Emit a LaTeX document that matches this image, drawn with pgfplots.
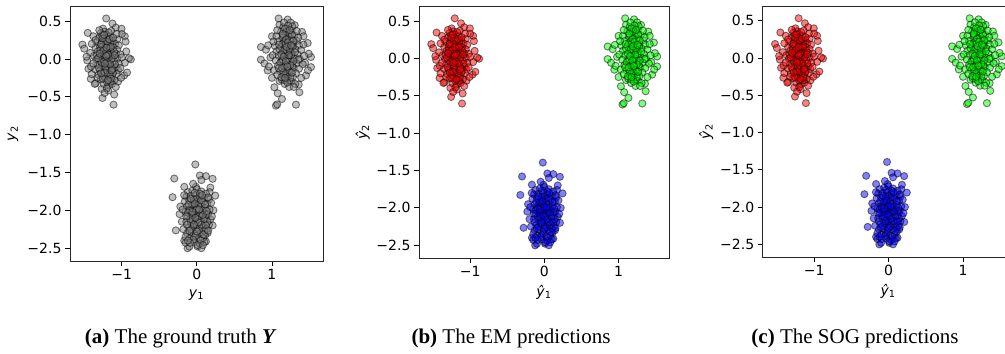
\documentclass[border=0pt]{standalone}
\usepackage{pgfplots}
\pgfplotsset{compat=1.18}
\usepackage{pgfplotstable}
\usepackage{fontspec}
\setmainfont{Liberation Serif}
\newfontfamily\capfont{Liberation Serif}
\newfontfamily\dejavu{DejaVu Sans}

\pgfplotstableread{
x y
-1.208 0.535
-1.124 0.468
-1.080 0.415
-1.004 0.400
-1.453 0.344
-1.524 0.190
-1.500 0.136
-0.880 -0.005
-0.905 0.010
-1.444 -0.130
-0.968 -0.218
-1.413 -0.263
-1.347 -0.320
-1.267 -0.396
-1.181 -0.418
-1.101 -0.470
-1.257 -0.516
-1.110 -0.604
-0.960 0.300
-0.950 0.230
-1.000 0.330
-1.380 0.300
-1.420 0.080
-1.460 -0.020
-1.470 0.030
-0.930 -0.180
-0.960 -0.050
-0.940 0.100
-1.400 -0.200
-1.050 -0.300
-1.010 -0.250
-1.250 0.400
-1.230 0.360
-1.280 0.340
-1.200 0.320
-1.160 0.300
-1.300 0.280
-1.240 0.260
-1.180 0.250
-1.120 0.240
-1.060 0.260
-1.330 0.220
-1.270 0.210
-1.210 0.200
-1.150 0.190
-1.090 0.200
-1.040 0.180
-1.350 0.150
-1.290 0.160
-1.230 0.140
-1.170 0.130
-1.110 0.150
-1.060 0.120
-1.320 0.100
-1.260 0.090
-1.200 0.080
-1.140 0.090
-1.080 0.070
-1.020 0.060
-1.370 0.040
-1.300 0.030
-1.240 0.040
-1.180 0.020
-1.120 0.030
-1.060 0.000
-1.340 -0.010
-1.280 -0.030
-1.220 -0.020
-1.160 -0.040
-1.100 -0.030
-1.040 -0.060
-1.320 -0.080
-1.260 -0.090
-1.200 -0.070
-1.140 -0.100
-1.080 -0.110
-1.350 -0.140
-1.290 -0.150
-1.230 -0.130
-1.170 -0.160
-1.110 -0.170
-1.050 -0.150
-1.310 -0.210
-1.250 -0.200
-1.190 -0.220
-1.130 -0.230
-1.070 -0.200
-1.280 -0.270
-1.220 -0.260
-1.160 -0.290
-1.100 -0.280
-1.240 -0.330
-1.180 -0.350
-1.130 -0.330
-1.200 -0.390
-1.150 -0.300
-1.210 0.010
-1.190 -0.120
-1.250 0.170
-1.130 0.060
-1.270 -0.050
-1.150 0.220
-1.210 0.280
-1.330 0.050
-1.090 -0.070
-1.190 0.110
-1.240 -0.170
-1.260 0.310
-1.140 0.370
-1.320 -0.250
-1.350 0.250
-1.400 0.200
-1.410 -0.100
-1.380 -0.060
-1.000 0.020
-1.020 -0.120
-1.070 0.330
-1.300 0.380
-1.360 -0.330
-1.080 -0.370
-1.230 -0.450
-1.160 0.050
-1.220 0.230
-1.200 -0.300
-1.120 -0.190
-1.215 0.120
-1.185 0.170
-1.245 -0.010
-1.175 -0.080
-1.205 -0.150
-1.265 0.050
-1.135 0.000
-1.225 0.060
-1.155 0.140
-1.285 0.120
-1.195 0.230
-1.235 -0.230
-1.165 -0.200
-1.105 0.100
-1.305 -0.120
-1.255 0.270
-1.145 -0.260
-1.215 -0.110
-1.125 -0.130
-1.275 0.190
-1.185 0.060
-1.245 0.110
-1.165 0.260
-1.225 -0.180
-1.195 -0.040
-1.095 0.050
-1.315 0.010
-1.145 0.160
-1.255 -0.260
-1.175 0.350
-1.235 0.320
-1.205 0.150
-1.155 -0.070
-1.275 -0.190
-1.115 0.280
-1.185 -0.280
-1.295 0.070
-1.225 -0.060
-1.135 -0.150
-1.205 0.040
}\clusterA

\pgfplotstableread{
x y
1.089 0.535
1.209 0.521
1.303 0.447
1.250 0.480
1.400 0.358
1.420 0.300
1.476 0.211
0.853 0.158
0.920 0.122
0.950 0.180
1.520 0.025
1.520 -0.108
1.490 0.070
0.853 -0.010
0.900 -0.060
0.943 -0.152
0.960 -0.100
1.453 -0.218
1.480 -0.150
1.356 -0.338
1.032 -0.374
1.076 -0.453
1.133 -0.529
1.053 -0.617
1.070 -0.600
1.320 -0.604
1.365 -0.440
1.100 -0.290
1.230 -0.290
1.000 0.300
0.980 0.020
1.440 -0.050
1.000 -0.250
1.100 0.450
1.150 0.420
1.200 0.400
1.260 0.380
1.120 0.360
1.180 0.340
1.240 0.330
1.300 0.310
1.060 0.300
1.140 0.280
1.200 0.270
1.260 0.260
1.330 0.240
1.080 0.230
1.160 0.220
1.220 0.210
1.280 0.190
1.360 0.180
1.040 0.170
1.120 0.160
1.190 0.150
1.250 0.140
1.310 0.130
1.390 0.120
1.060 0.100
1.140 0.090
1.210 0.080
1.270 0.070
1.340 0.060
1.010 0.050
1.090 0.040
1.170 0.030
1.230 0.020
1.300 0.010
1.370 0.000
1.050 -0.020
1.130 -0.030
1.200 -0.040
1.260 -0.050
1.330 -0.060
1.410 -0.070
1.080 -0.090
1.160 -0.100
1.220 -0.110
1.290 -0.120
1.360 -0.130
1.030 -0.150
1.110 -0.160
1.190 -0.170
1.250 -0.180
1.320 -0.190
1.070 -0.210
1.150 -0.220
1.210 -0.230
1.280 -0.240
1.390 -0.250
1.130 -0.270
1.190 -0.260
1.260 -0.300
1.310 -0.330
1.170 -0.330
1.230 -0.370
1.210 0.180
1.180 0.060
1.240 -0.010
1.150 0.310
1.270 0.430
1.330 0.370
1.110 -0.050
1.200 -0.140
1.350 0.280
1.020 0.230
1.420 0.190
1.430 0.040
1.070 0.380
1.160 0.480
1.290 -0.370
1.100 0.130
1.240 0.110
1.180 -0.200
1.140 0.200
1.270 -0.090
1.090 -0.120
1.350 -0.010
1.220 0.300
1.195 0.100
1.215 0.000
1.185 -0.080
1.235 0.250
1.175 0.190
1.205 -0.200
1.255 0.050
1.165 0.120
1.225 -0.150
1.145 -0.010
1.275 0.160
1.195 0.360
1.245 -0.250
1.165 -0.280
1.215 0.440
1.125 0.060
1.285 -0.030
1.155 -0.180
1.235 0.120
1.185 0.260
1.205 -0.310
1.265 0.320
1.135 -0.120
1.175 0.400
1.225 0.050
1.305 0.090
1.095 0.190
1.245 -0.080
1.155 0.030
1.215 0.220
1.185 -0.030
1.265 -0.180
1.125 -0.240
1.235 0.380
1.195 0.160
1.285 0.240
1.145 0.330
1.205 -0.100
1.175 -0.250
1.255 0.180
}\clusterB

\pgfplotstableread{
x y
-0.021 -1.394
-0.301 -1.580
0.040 -1.540
0.120 -1.548
0.209 -1.584
-0.168 -1.690
-0.013 -1.690
-0.324 -1.827
0.245 -1.806
-0.280 -2.266
-0.168 -2.400
-0.124 -2.501
0.009 -2.479
0.120 -2.412
0.143 -2.300
-0.050 -1.650
0.060 -1.600
0.180 -1.700
-0.220 -1.950
-0.200 -2.150
0.220 -2.000
0.210 -2.200
-0.100 -2.480
0.060 -2.500
-0.150 -2.430
-0.230 -2.050
0.170 -1.760
-0.120 -1.760
-0.060 -1.740
0.000 -1.720
0.060 -1.750
0.120 -1.780
-0.140 -1.820
-0.080 -1.810
-0.020 -1.800
0.040 -1.820
0.100 -1.840
0.160 -1.860
-0.160 -1.880
-0.100 -1.870
-0.040 -1.890
0.020 -1.880
0.080 -1.900
0.140 -1.920
-0.130 -1.950
-0.070 -1.940
-0.010 -1.960
0.050 -1.950
0.110 -1.970
0.170 -1.990
-0.150 -2.020
-0.090 -2.010
-0.030 -2.030
0.030 -2.020
0.090 -2.040
0.150 -2.050
-0.120 -2.080
-0.060 -2.090
0.000 -2.100
0.060 -2.080
0.120 -2.110
0.180 -2.120
-0.140 -2.150
-0.080 -2.160
-0.020 -2.170
0.040 -2.150
0.100 -2.180
0.160 -2.190
-0.110 -2.230
-0.050 -2.220
0.010 -2.240
0.070 -2.230
0.130 -2.250
-0.130 -2.300
-0.070 -2.290
-0.010 -2.310
0.050 -2.300
0.110 -2.330
-0.100 -2.370
-0.040 -2.360
0.020 -2.380
0.080 -2.370
-0.150 -2.350
0.140 -2.150
-0.020 -2.050
0.020 -1.930
-0.050 -2.130
0.070 -2.000
-0.100 -1.990
0.000 -2.200
0.100 -2.270
-0.030 -2.420
0.040 -2.440
-0.180 -2.250
0.190 -1.900
-0.170 -1.800
0.000 -1.840
0.130 -2.060
-0.060 -1.920
0.090 -2.120
-0.120 -2.030
0.030 -2.070
-0.080 -2.250
0.150 -1.830
-0.030 -1.770
0.100 -2.420
-0.190 -1.990
0.200 -2.080
-0.010 -2.000
0.010 -2.120
-0.040 -1.860
0.030 -2.260
-0.070 -2.060
0.060 -1.870
-0.020 -2.340
0.080 -2.060
-0.090 -2.120
0.040 -1.780
-0.110 -1.920
0.000 -1.980
0.060 -2.190
-0.050 -2.390
0.110 -1.920
-0.030 -1.910
0.020 -2.160
-0.080 -1.850
0.090 -2.320
-0.130 -2.190
0.130 -2.010
0.000 -2.280
-0.060 -2.020
0.050 -2.400
-0.100 -2.270
0.070 -1.800
-0.020 -2.100
0.120 -2.200
-0.140 -2.080
0.030 -1.990
-0.040 -2.190
0.150 -2.270
-0.090 -2.430
0.010 -2.460
-0.120 -2.400
0.080 -2.460
}\clusterC

\definecolor{mplred}{rgb}{1,0,0}
\definecolor{mplgreen}{rgb}{0,1,0}
\definecolor{mplblue}{rgb}{0,0,1}

\pgfplotsset{
  panel/.style={
    anchor=south west,
    scale only axis,
    width=253bp, height=255bp,
    xmin=-1.69, xmax=1.68, ymin=-2.67, ymax=0.70,
    xtick={-1,0,1}, xticklabels={−1,0,1},
    ytick={-2.5,-2,-1.5,-1,-0.5,0,0.5},
    yticklabels={−2.5,−2.0,−1.5,−1.0,−0.5,0.0,0.5},
    tick align=outside, major tick length=5bp,
    tick style={black, line width=0.8bp},
    axis line style={black!85, line width=0.9bp},
    xtick pos=bottom, ytick pos=left,
    ticklabel style={font=\dejavu\fontsize{14bp}{16bp}\selectfont},
    label style={font=\dejavu\fontsize{14bp}{16bp}\selectfont},
    xlabel style={at={(axis description cs:0.5,-0.135)}, anchor=center},
    ylabel style={at={(axis description cs:-0.225,0.5)}, anchor=center, rotate=0},
    clip=false,
  },
  pts/.style={only marks, mark=*, mark size=3.6bp,
    mark options={fill=#1, draw=black, fill opacity=0.5, draw opacity=0.5, line width=0.9bp}},
}

\begin{document}
\begin{tikzpicture}
\begin{axis}[panel, at={(70bp,93bp)},
  xlabel={{\itshape y}\textsubscript{1}}, ylabel={{\itshape y}\textsubscript{2}}]
\addplot[pts=gray] table[x=x,y=y] {\clusterA};
\addplot[pts=gray] table[x=x,y=y] {\clusterB};
\addplot[pts=gray] table[x=x,y=y] {\clusterC};
\end{axis}
\begin{axis}[panel, at={(419bp,96bp)}, width=250bp, height=252bp,
  xlabel={{\itshape ŷ}\textsubscript{1}}, ylabel={{\itshape ŷ}\textsubscript{2}}]
\addplot[pts=mplred] table[x=x,y=y] {\clusterA};
\addplot[pts=mplgreen] table[x=x,y=y] {\clusterB};
\addplot[pts=mplblue] table[x=x,y=y] {\clusterC};
\end{axis}
\begin{axis}[panel, at={(762.7bp,97bp)}, width=251bp, height=251bp,
  xlabel={{\itshape ŷ}\textsubscript{1}}, ylabel={{\itshape ŷ}\textsubscript{2}}]
\addplot[pts=mplred] table[x=x,y=y] {\clusterA};
\addplot[pts=mplgreen] table[x=x,y=y] {\clusterB};
\addplot[pts=mplblue] table[x=x,y=y] {\clusterC};
\end{axis}
\node[anchor=base, font=\capfont\fontsize{21bp}{24bp}\selectfont] at (180bp,11bp)
  {\textbf{(a)} The ground truth {\bfseries\itshape Y}};
\node[anchor=base, font=\capfont\fontsize{21bp}{24bp}\selectfont] at (511bp,11bp)
  {\textbf{(b)} The EM predictions};
\node[anchor=base, font=\capfont\fontsize{21bp}{24bp}\selectfont] at (855bp,11bp)
  {\textbf{(c)} The SOG predictions};
\pgfresetboundingbox
\path[use as bounding box] (0,0) rectangle (1005bp,354bp);
\end{tikzpicture}
\end{document}
